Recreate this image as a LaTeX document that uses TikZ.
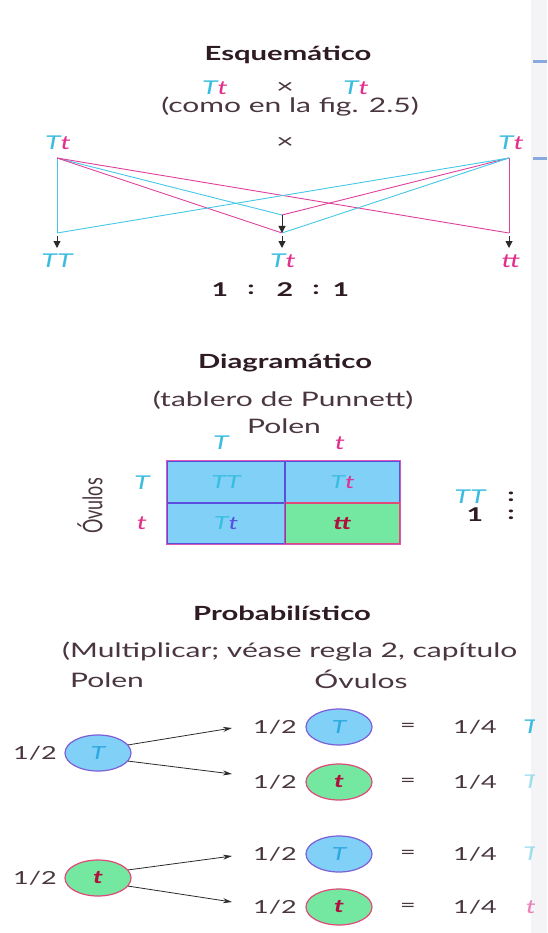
\documentclass[tikz,border=0pt]{standalone}
\usepackage{fontspec}
\setmainfont[FakeStretch=1.5]{Lato}
\newfontfamily\plainfont{Lato}
\usetikzlibrary{arrows.meta,shapes.geometric}
\definecolor{txt}{HTML}{4A3640}
\definecolor{headc}{HTML}{2E1B24}
\definecolor{cyT}{HTML}{3BBDE0}
\definecolor{mgT}{HTML}{E0308C}
\definecolor{lineC}{HTML}{45C8E8}
\definecolor{lineM}{HTML}{E0409C}
\definecolor{cellB}{HTML}{80D0F8}
\definecolor{cellG}{HTML}{74E8A0}
\definecolor{gridBlue}{HTML}{5A50E0}
\definecolor{gridPink}{HTML}{D858B8}
\definecolor{ellBd}{HTML}{7D5FD6}
\definecolor{ellGd}{HTML}{E04A78}
\definecolor{inT}{HTML}{2EA8E0}
\definecolor{inTt}{HTML}{B01040}
\definecolor{arrc}{HTML}{2A2A2A}
\definecolor{panel}{HTML}{F4F4F6}
\definecolor{dashb}{HTML}{8AA8E0}
\begin{document}
\begin{tikzpicture}[x=1pt,y=-1pt,
  head/.style={font=\fontsize{19.5}{22}\selectfont\bfseries, text=headc, inner sep=0pt},
  body/.style={font=\fontsize{20}{23}\selectfont, text=txt, inner sep=0pt},
  frac/.style={font=\fontsize{18}{21}\selectfont, text=txt, inner sep=0pt},
  num/.style={font=\fontsize{19}{22}\selectfont\bfseries, text=headc, inner sep=0pt},
  gen/.style={font=\fontsize{19}{22}\selectfont\itshape, inner sep=0pt},
  lc/.style={draw=lineC, line width=0.9pt},
  lm/.style={draw=lineM, line width=0.9pt},
  darr/.style={draw=arrc, line width=1pt, -{Triangle[length=7pt,width=7pt]}},
  parr/.style={draw=arrc, line width=0.8pt, -{Stealth[length=9pt,width=5pt]}},
  cell/.style={draw=gridBlue, line width=1.2pt, inner sep=0pt, font=\fontsize{18}{21}\selectfont\itshape},
  ellT/.style={ellipse, draw=ellBd, fill=cellB, line width=1.2pt, minimum width=66pt, minimum height=36pt, inner sep=0pt, text=inT, font=\fontsize{18}{21}\selectfont\itshape},
  ellt/.style={ellipse, draw=ellGd, fill=cellG, line width=1.2pt, minimum width=66pt, minimum height=36pt, inner sep=0pt, text=inTt, font=\fontsize{18}{21}\selectfont\bfseries\itshape}
]
\useasboundingbox (0,0) rectangle (547,933);
\fill[white] (0,0) rectangle (547,933);
\fill[panel] (531,0) rectangle (547,933);
\draw[dashb, line width=3pt] (533,62) -- (547,62);
\draw[dashb, line width=3pt] (533,159) -- (547,159);

% ---------- Esquematico ----------
\node[head] (h1) at (288,55) {Esquemático};
\node[gen] (p1) at (215,88) {\textcolor{cyT}{T}\textcolor{mgT}{t}};
\node[body] (x1) at (285,88) {×};
\node[gen] (p2) at (356,88) {\textcolor{cyT}{T}\textcolor{mgT}{t}};
\node[body] (c1) at (290,107) {(como en la fig. 2.5)};
\node[gen] (pl) at (58,143) {\textcolor{cyT}{T}\textcolor{mgT}{t}};
\node[body] (x2) at (285,143) {×};
\node[gen] (pr) at (511,143) {\textcolor{cyT}{T}\textcolor{mgT}{t}};

\coordinate (L) at (57,158);
\coordinate (R) at (509,158);
\coordinate (BL) at (57,233);
\coordinate (MU) at (282,215);
\coordinate (ML) at (282,233);
\coordinate (BR) at (509,233);
\coordinate (BLs) at (57,236);
\coordinate (BLt) at (57,248);
\coordinate (MUt) at (282,233);
\coordinate (MLs) at (282,236);
\coordinate (MLt) at (282,248);
\coordinate (BRs) at (509,236);
\coordinate (BRt) at (509,248);

\draw[lc] (L) -- (BL);
\draw[lc] (L) -- (MU);
\draw[lm] (L) -- (ML);
\draw[lm] (L) -- (BR);
\draw[lm] (R) -- (BR);
\draw[lm] (R) -- (MU);
\draw[lc] (R) -- (ML);
\draw[lc] (R) -- (BL);

\draw[darr] (BLs) -- (BLt);
\draw[darr] (MU) -- (MUt);
\draw[darr] (MLs) -- (MLt);
\draw[darr] (BRs) -- (BRt);

\node[gen] (oTT) at (57,261) {\textcolor{cyT}{TT}};
\node[gen] (oTt) at (283,261) {\textcolor{cyT}{T}\textcolor{mgT}{t}};
\node[gen] (ott) at (511,261) {\textcolor{mgT}{tt}};

\node[num] (r1) at (220,290) {1};
\node[num] (r2) at (251,290) {:};
\node[num] (r3) at (285,290) {2};
\node[num] (r4) at (316,290) {:};
\node[num] (r5) at (341,290) {1};

% ---------- Diagramatico ----------
\node[head] (h2) at (285,363) {Diagramático};
\node[body] (tp) at (283,400) {(tablero de Punnett)};
\node[body] (pol) at (284,426) {Polen};
\node[gen, text=cyT] (cT) at (221,443) {T};
\node[gen, text=mgT] (ct) at (340,443) {t};

\node[cell, fill=cellB, minimum width=118pt, minimum height=42pt] (c11) at (226,482) {\textcolor{cyT}{TT}};
\node[cell, fill=cellB, minimum width=115pt, minimum height=42pt] (c12) at (342.5,482) {\textcolor{cyT}{T}\textcolor{mgT}{t}};
\node[cell, fill=cellB, minimum width=118pt, minimum height=41pt] (c21) at (226,523.5) {\textcolor{cyT}{T}\textcolor{gridBlue}{t}};
\node[cell, fill=cellG, draw=ellGd, minimum width=115pt, minimum height=41pt] (c22) at (342.5,523.5) {\textcolor{inTt}{\bfseries tt}};
\draw[gridBlue, line width=1.2pt] (c11.north east) -- (c21.south east);
\draw[gridPink, line width=1.2pt] (c11.north west) rectangle (c22.south east);

\node[gen, text=cyT] (rT) at (142,483) {T};
\node[gen, text=mgT] (rt) at (142,523) {t};
\node[inner sep=0pt, rotate=90, text=txt] (ovr) at (90,506) {\scalebox{1}[1.5]{\fontsize{18}{21}\plainfont Óvulos}};

\node[gen, text=cyT] (sTT) at (470,497) {TT};
\node[num] (sc1) at (511,497) {:};
\node[num] (s1) at (475,515) {1};
\node[num] (sc2) at (511,515) {:};

% ---------- Probabilistico ----------
\node[head] (h3) at (282,613) {Probabilístico};
\node[body, anchor=west] (mu) at (62,652) {(Multiplicar; véase regla 2, capítulo};
\node[body] (pp) at (107,680) {Polen};
\node[body] (ov) at (361,679) {Óvulos};

\node[frac] (lh1) at (35,753) {1/2};
\node[ellT] (lT) at (98,753) {T};
\node[frac] (lh2) at (35,878) {1/2};
\node[ellt] (lt) at (98,878) {t};

\coordinate (a1) at (232,728);
\coordinate (a2) at (232,774);
\coordinate (a3) at (232,856);
\coordinate (a4) at (232,902);
\draw[parr] (lT.15) -- (a1);
\draw[parr] (lT.-15) -- (a2);
\draw[parr] (lt.15) -- (a3);
\draw[parr] (lt.-15) -- (a4);

\foreach \i/\yy/\st/\lab in {1/727/ellT/T, 2/782/ellt/t, 3/854/ellT/T, 4/907/ellt/t}{
  \node[frac] (h\i) at (275,\yy) {1/2};
  \node[\st] (e\i) at (339,\yy) {\lab};
  \node[frac] (q\i) at (408,\yy) {=};
  \node[frac] (f\i) at (475,\yy) {1/4};
}
\begin{scope}
\clip (515,700) rectangle (534,930);
\node[gen, text=cyT] (g1) at (531,727) {T};
\node[gen, text=cyT, opacity=0.45] (g2) at (531,782) {T};
\node[gen, text=cyT, opacity=0.45] (g3) at (531,854) {T};
\node[gen, text=mgT, opacity=0.6] (g4) at (531,907) {t};
\end{scope}
\end{tikzpicture}
\end{document}
